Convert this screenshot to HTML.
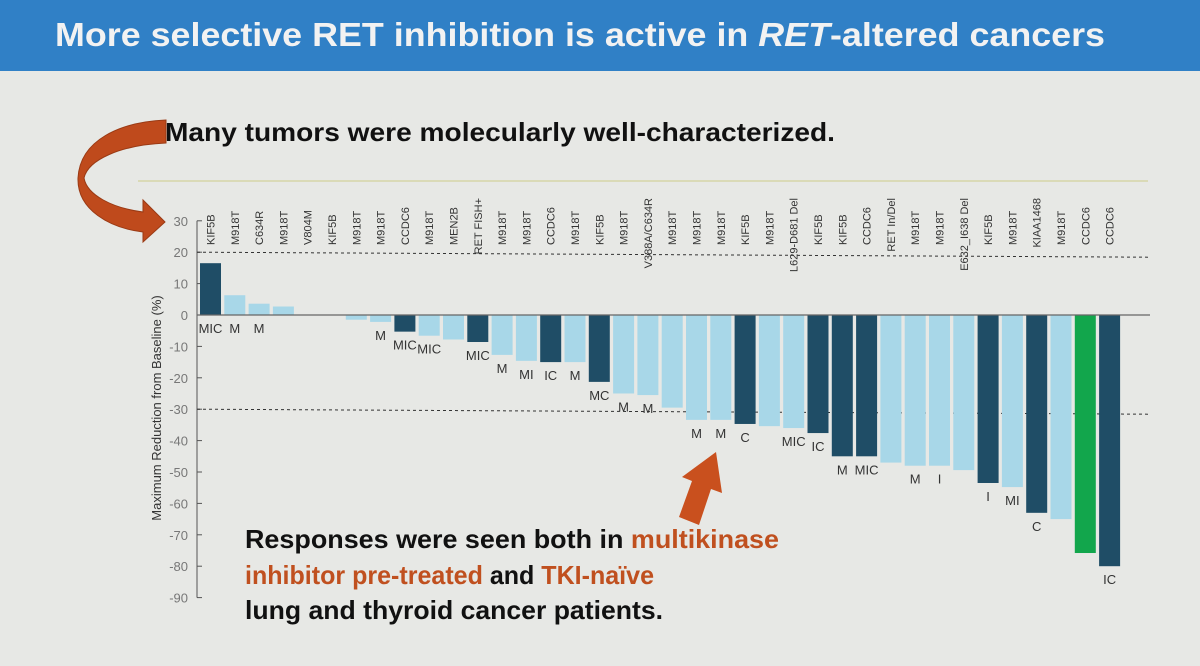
<!DOCTYPE html>
<html><head><meta charset="utf-8"><style>
html,body{margin:0;padding:0;background:#e7e8e5;}
svg{display:block;font-family:"Liberation Sans",sans-serif;}
</style></head><body>
<svg id="chart" width="1200" height="666" viewBox="0 0 1200 666">
<rect x="0" y="0" width="1200" height="666" fill="#e7e8e5"/>
<rect x="0" y="0" width="1200" height="71" fill="#3080c6"/>
<text x="55" y="46" fill="#f2f2f2" font-size="33" font-weight="bold" textLength="1050" lengthAdjust="spacingAndGlyphs">More selective RET inhibition is active in <tspan font-style="italic">RET</tspan>-altered cancers</text>
<text x="165" y="141" fill="#111" font-size="26" font-weight="bold" textLength="670" lengthAdjust="spacingAndGlyphs">Many tumors were molecularly well-characterized.</text>
<line x1="138" y1="181" x2="1148" y2="181" stroke="#d6d6a8" stroke-width="1.5"/>
<path d="M166,120 C120,122 80,140 78,178 C77,210 110,228 143,232 L143,242 L165,222 L143,200 L143,212 C112,208 87,195 84,178 C88,160 120,145 166,143 Z" fill="#bf4a1c" stroke="#9a3a14" stroke-width="1"/>
<path d="M679,517 L692,481 L682,477 L716,452 L722,493 L711,489 L699,525 Z" fill="#c9501e"/>
<g id="plot"></g>
<text x="245" y="548" fill="#111" font-size="26" font-weight="bold" textLength="534" lengthAdjust="spacingAndGlyphs">Responses were seen both in <tspan fill="#c0501f">multikinase</tspan></text>
<text x="245" y="584" fill="#111" font-size="26" font-weight="bold" textLength="409" lengthAdjust="spacingAndGlyphs"><tspan fill="#c0501f">inhibitor pre-treated</tspan> and <tspan fill="#c0501f">TKI-naïve</tspan></text>
<text x="245" y="619" fill="#111" font-size="26" font-weight="bold" textLength="418" lengthAdjust="spacingAndGlyphs">lung and thyroid cancer patients.</text>
</svg>
<script>
const categories = ["KIF5B","M918T","C634R","M918T","V804M","KIF5B","M918T","M918T","CCDC6","M918T","MEN2B","RET FISH+","M918T","M918T","CCDC6","M918T","KIF5B","M918T","V388A/C634R","M918T","M918T","M918T","KIF5B","M918T","L629-D681 Del","KIF5B","KIF5B","CCDC6","RET In/Del","M918T","M918T","E632_I638 Del","KIF5B","M918T","KIAA1468","M918T","CCDC6","CCDC6"];
const values = [16.5,6.3,3.6,2.7,0,0,-1.5,-2.2,-5.3,-6.6,-7.8,-8.6,-12.7,-14.6,-15,-15,-21.3,-25,-25.5,-29.5,-33.4,-33.4,-34.7,-35.4,-36,-37.6,-45,-45,-47,-48,-48,-49.4,-53.5,-54.8,-63,-65,-75.8,-80];
const groups = ["d","l","l","l","l","l","l","l","d","l","l","d","l","l","d","l","d","l","l","l","l","l","d","l","l","d","d","d","l","l","l","l","d","l","d","l","g","d"];
const subLabels = ["MIC","M","M","","","","","M","MIC","MIC","","MIC","M","MI","IC","M","MC","M","M","","M","M","C","","MIC","IC","M","MIC","","M","I","","I","MI","C","","","IC"];
const yTicks = [30,20,10,0,-10,-20,-30,-40,-50,-60,-70,-80,-90];
const refLines = [20,-30];

const NS = "http://www.w3.org/2000/svg";
const g = document.getElementById('plot');
const X0 = 210.5, STEP = 24.3, BW = 21;
const x = i => X0 + i * STEP;
const y = v => 315 - v * 3.14;
const colors = {d:"#1f4d66", l:"#a8d7e8", g:"#12a64c"};
function mk(tag, attrs){ const e=document.createElementNS(NS,tag); for(const k in attrs) e.setAttribute(k,attrs[k]); g.appendChild(e); return e; }

// y axis
let ax = mk('line',{x1:197,y1:y(30),x2:197,y2:y(-90),stroke:"#555","stroke-width":1});


yTicks.forEach(t=>{
  const tk = mk('line',{x1:197,y1:y(t),x2:202,y2:y(t),stroke:"#555","stroke-width":1});
  
  
  const tl = mk('text',{x:188,y:y(t)+5,"text-anchor":"end","font-size":13,fill:"#777"});
  tl.textContent = t;
  
  
});
const yt = mk('text',{x:0,y:0,"text-anchor":"middle","font-size":13,fill:"#333",transform:"translate(161,408) rotate(-90)"});
yt.textContent = "Maximum Reduction from Baseline (%)";



refLines.forEach(r=>{
  const l = mk('line',{x1:197,y1:y(r),x2:1150,y2:y(r)+5,stroke:"#333","stroke-width":1,"stroke-dasharray":"3,3"});
  
  
});

values.forEach((v,i)=>{
  const top = Math.min(y(v), y(0)), h = Math.abs(y(v)-y(0));
  const b = mk('rect',{x:x(i)-BW/2,y:top,width:BW,height:Math.max(h,0.01),fill:colors[groups[i]]});
  
  
  const c = mk('text',{"font-size":11,fill:"#333"});
  c.textContent = categories[i];
  
  
  const len = c.getComputedTextLength();
  if (len > 45) { c.setAttribute('text-anchor','end'); c.setAttribute('transform',`translate(${x(i)+4},198) rotate(-90)`); }
  else { c.setAttribute('text-anchor','start'); c.setAttribute('transform',`translate(${x(i)+4},245) rotate(-90)`); }
  if (subLabels[i]) {
    const s = mk('text',{x:x(i),y:Math.max(y(v),y(0))+18,"text-anchor":"middle","font-size":13,fill:"#333"});
    s.textContent = subLabels[i];
    
    
  }
});
const z = mk('line',{x1:197,y1:y(0),x2:1150,y2:y(0),stroke:"#666","stroke-width":1.2});


</script>
</body></html>
